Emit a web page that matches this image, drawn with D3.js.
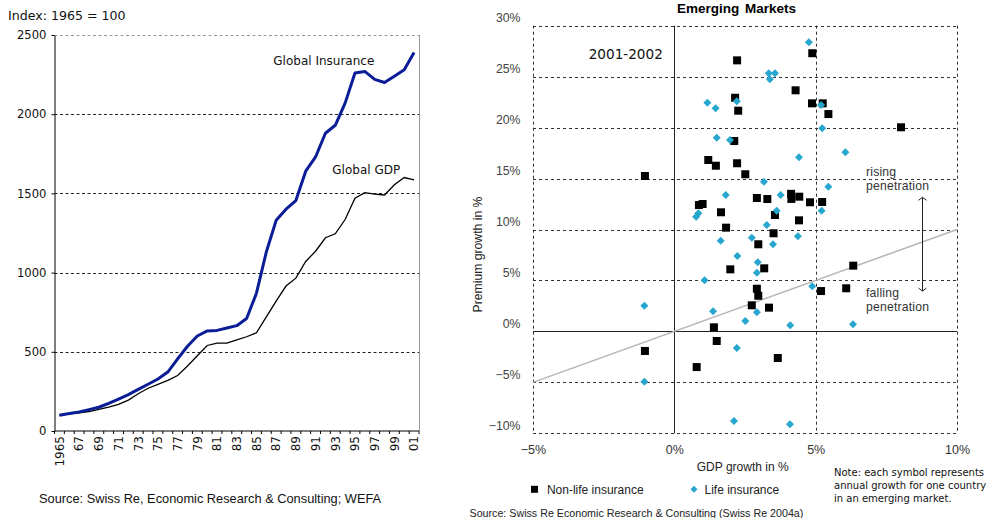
<!DOCTYPE html>
<html><head><meta charset="utf-8">
<script src="https://cdn.jsdelivr.net/npm/d3@7/dist/d3.min.js"></script>
<style>body{margin:0;background:#fff}svg{display:block}</style>
</head><body>
<svg id="c" width="994" height="518"></svg>
<script>
// ---------- Left chart data ----------
const years = ["1965","1966","1967","1968","1969","1970","1971","1972","1973","1974","1975","1976","1977","1978","1979","1980","1981","1982","1983","1984","1985","1986","1987","1988","1989","1990","1991","1992","1993","1994","1995","1996","1997","1998","1999","2000","2001"];
const insurance = [100,110,120,135,150,175,202,230,263,295,328,372,455,535,600,632,635,650,665,710,870,1130,1330,1400,1455,1640,1730,1880,1930,2070,2260,2270,2220,2200,2240,2280,2390];
const gdp = [100,108,115,123,137,150,168,195,235,270,295,320,350,410,475,540,555,555,575,595,620,720,820,915,965,1070,1135,1220,1245,1335,1470,1505,1495,1490,1555,1600,1585];
const labelYears = ["1965","1967","1969","1971","1973","1975","1977","1979","1981","1983","1985","1987","1989","1991","1993","1995","1997","1999","2001"];
const xTickLabels = ["1965","67","69","71","73","75","77","79","81","83","85","87","89","91","93","95","97","99","01"];
const yTicksL = [0,500,1000,1500,2000,2500];

// ---------- Right chart data ----------
const nonLifeGdp = [-1.04,2.22,4.88,4.29,2.15,2.26,4.87,5.25,5.45,8.02,2.12,1.2,1.47,2.22,2.51,0.87,1.0,1.65,1.83,2.92,3.29,4.13,4.14,4.42,4.8,5.23,3.56,4.41,3.51,2.97,1.98,3.18,2.92,2.97,2.74,3.35,1.4,1.5,-1.04,0.79,3.66,6.33,5.19,6.08];
const nonLifePrem = [15.25,26.6,27.3,23.66,22.93,21.66,22.38,22.38,21.33,20.03,18.68,16.82,16.26,16.5,15.42,12.4,12.5,11.69,10.18,13.09,12.99,13.5,13.0,13.22,12.67,12.7,11.42,10.9,9.63,8.55,6.09,6.19,4.19,3.5,2.56,2.33,0.4,-0.94,-1.92,-3.5,-2.61,6.45,3.96,4.23];
const lifeGdp = [4.76,3.34,3.56,3.38,1.17,1.46,2.21,5.19,5.23,1.5,1.97,4.41,6.05,3.17,5.45,1.82,3.76,0.77,0.85,3.62,5.21,3.27,2.74,1.64,4.37,3.49,2.23,2.95,2.92,1.07,4.88,-1.06,1.37,2.92,2.51,4.1,6.32,2.21,-1.06,2.11,4.09];
const lifePrem = [28.37,25.33,25.33,24.74,22.44,21.89,22.58,22.22,19.93,19.01,18.78,17.09,17.58,14.69,14.2,13.39,13.39,11.26,11.59,11.85,11.85,10.44,9.2,8.9,9.33,8.55,7.4,6.78,5.76,5.01,4.43,2.52,1.97,1.87,1.02,0.6,0.7,-1.63,-4.94,-8.79,-9.12];
const xTicksR = [-5,0,5,10];
const yTicksR = [30,25,20,15,10,5,0,-5,-10];
const xGridR = [-5,5,10];
const yGridR = [30,25,20,15,10,5,-5,-10];

const svg = d3.select("#c");
const DV = "'DejaVu Sans', Verdana, sans-serif";
const AR = "'Liberation Sans', Arial, Helvetica, sans-serif";

// ================= LEFT CHART =================
const xL = d3.scaleBand().domain(years).range([54.5, 419]);
const yL = d3.scaleLinear().domain([0, 2500]).range([431, 35]);
const bw = xL.bandwidth();
const L = svg.append("g");

L.append("text").attr("x", 8).attr("y", 19.5).attr("font-family", DV).attr("font-size", 12.6)
  .attr("fill", "#111").text("Index: 1965 = 100");

// gridlines
L.selectAll("line.grid").data(yTicksL.filter(d => d > 0)).join("line")
  .attr("x1", 54.5).attr("x2", 419)
  .attr("y1", d => Math.round(yL(d)) + 0.5).attr("y2", d => Math.round(yL(d)) + 0.5)
  .attr("stroke", d => d === 2500 ? "#999" : "#222").attr("stroke-width", 1)
  .attr("stroke-dasharray", "3,2.5");
// right border
L.append("line").attr("x1", 419.5).attr("x2", 419.5).attr("y1", yL(2500)).attr("y2", yL(0))
  .attr("stroke", "#999");

// y axis
const yAxL = L.append("g").attr("transform", "translate(54.5,0)")
  .call(d3.axisLeft(yL).tickValues(yTicksL).tickSize(3).tickSizeOuter(0).tickPadding(5).tickFormat(d3.format("d")));
yAxL.select(".domain").attr("stroke", "#000");
yAxL.selectAll("line").attr("stroke", "#000");
yAxL.selectAll("text").attr("font-family", DV).attr("font-size", 11.6).attr("fill", "#111");

// x axis
L.append("line").attr("x1", 54.5).attr("x2", 419).attr("y1", 431).attr("y2", 431).attr("stroke", "#000");
const tickPos = years.map(d => xL(d)).concat([xL.range()[1]]);
L.selectAll("line.xt").data(tickPos).join("line")
  .attr("x1", d => d).attr("x2", d => d).attr("y1", 431).attr("y2", 434).attr("stroke", "#000");
L.selectAll("text.xl").data(labelYears).join("text")
  .attr("transform", d => `translate(${xL(d) + bw / 2},436) rotate(-90)`)
  .attr("text-anchor", "end").attr("dy", "0.36em")
  .attr("font-family", DV).attr("font-size", 12).attr("fill", "#111")
  .text((d, i) => xTickLabels[i]);

const lineGen = d3.line().x(d => xL(d[0]) + bw / 2).y(d => yL(d[1]));
L.append("path").datum(years.map((y, i) => [y, gdp[i]]))
  .attr("d", lineGen).attr("fill", "none").attr("stroke", "#000").attr("stroke-width", 1.3);
L.append("path").datum(years.map((y, i) => [y, insurance[i]]))
  .attr("d", lineGen).attr("fill", "none").attr("stroke", "#0b1d96").attr("stroke-width", 3)
  .attr("stroke-linejoin", "round");

L.append("text").attr("x", 273.3).attr("y", 64.5).attr("font-family", DV).attr("font-size", 12)
  .attr("fill", "#111").text("Global Insurance");
L.append("text").attr("x", 332.3).attr("y", 173.5).attr("font-family", DV).attr("font-size", 12)
  .attr("fill", "#111").text("Global GDP");

L.append("text").attr("x", 39).attr("y", 503).attr("font-family", AR).attr("font-size", 12.8)
  .attr("fill", "#111").text("Source: Swiss Re, Economic Research & Consulting; WEFA");

// ================= RIGHT CHART =================
const xR = d3.scaleLinear().domain([-5, 10]).range([533, 957]);
const yR = d3.scaleLinear().domain([-10, 30]).range([433.3, 25.7]);
const R = svg.append("g");
const fmt = d => (d < 0 ? "\u2212" : "") + Math.abs(d) + "%";

R.append("text").attr("x", 736.4).attr("y", 12.5).attr("text-anchor", "middle")
  .attr("font-family", AR).attr("font-weight", "bold").attr("font-size", 13.5)
  .attr("word-spacing", 2).attr("fill", "#000").text("Emerging Markets");

// dashed grid
R.selectAll("line.hg").data(yGridR).join("line")
  .attr("x1", xR(-5)).attr("x2", xR(10))
  .attr("y1", d => Math.round(yR(d)) + 0.5).attr("y2", d => Math.round(yR(d)) + 0.5)
  .attr("stroke", "#333").attr("stroke-dasharray", "3,3");
R.selectAll("line.vg").data(xGridR).join("line")
  .attr("x1", d => Math.round(xR(d)) + 0.5).attr("x2", d => Math.round(xR(d)) + 0.5)
  .attr("y1", yR(30)).attr("y2", yR(-10))
  .attr("stroke", "#333").attr("stroke-dasharray", "3,3");
// zero axes
R.append("line").attr("x1", xR(-5)).attr("x2", xR(10))
  .attr("y1", Math.round(yR(0)) + 0.5).attr("y2", Math.round(yR(0)) + 0.5).attr("stroke", "#222");
R.append("line").attr("x1", Math.round(xR(0)) + 0.5).attr("x2", Math.round(xR(0)) + 0.5)
  .attr("y1", yR(30)).attr("y2", yR(-10)).attr("stroke", "#222");

// constant-penetration line (premium growth = GDP growth)
R.append("line").attr("x1", xR(-5)).attr("y1", yR(-5)).attr("x2", xR(10)).attr("y2", yR(10))
  .attr("stroke", "#b5b5b5").attr("stroke-width", 1.5);

// axes
const yAxR = R.append("g").attr("transform", `translate(${xR(-5)},0)`)
  .call(d3.axisLeft(yR).tickValues(yTicksR).tickSize(0).tickPadding(12.5).tickFormat(fmt));
yAxR.select(".domain").remove();
yAxR.selectAll("text").attr("font-family", AR).attr("font-size", 12.3).attr("fill", "#444")
  .attr("dy", "-0.32em");
const xAxR = R.append("g").attr("transform", `translate(0,${yR(-10)})`)
  .call(d3.axisBottom(xR).tickValues(xTicksR).tickSize(0).tickPadding(11.5).tickFormat(fmt));
xAxR.select(".domain").remove();
xAxR.selectAll("text").attr("font-family", AR).attr("font-size", 12.5).attr("fill", "#333");

R.append("text").attr("x", 742.7).attr("y", 471).attr("text-anchor", "middle")
  .attr("font-family", AR).attr("font-size", 12).attr("fill", "#222").text("GDP growth in %");
R.append("text").attr("transform", "translate(481.5,254.5) rotate(-90)").attr("text-anchor", "middle")
  .attr("font-family", AR).attr("font-size", 12.2).attr("fill", "#222").text("Premium growth in %");

R.append("text").attr("x", 588.7).attr("y", 58.5).attr("font-family", DV).attr("font-size", 13.6)
  .attr("fill", "#111").text("2001-2002");

// points
const sq = d3.symbol().type(d3.symbolSquare).size(64);
const dia = d3.symbol().type(d3.symbolSquare).size(32);
R.selectAll("path.nl").data(nonLifeGdp.map((g, i) => [g, nonLifePrem[i]])).join("path")
  .attr("d", sq).attr("transform", d => `translate(${xR(d[0])},${yR(d[1])})`).attr("fill", "#000");
R.selectAll("path.lf").data(lifeGdp.map((g, i) => [g, lifePrem[i]])).join("path")
  .attr("d", dia).attr("transform", d => `translate(${xR(d[0])},${yR(d[1])}) rotate(45)`).attr("fill", "#27a6cf");

// annotations
const annX = 6.78;
const ann = [["rising", 15.25], ["penetration", 13.83], ["falling", 3.38], ["penetration", 2.0]];
R.selectAll("text.ann").data(ann).join("text")
  .attr("x", xR(annX)).attr("y", d => yR(d[1]))
  .attr("font-family", AR).attr("font-size", 12.2).attr("fill", "#333").attr("letter-spacing", 0.2)
  .text(d => d[0]);
const arrX = Math.round(xR(8.75)) + 0.5, aTop = yR(13.16), aBot = yR(3.96);
R.append("line").attr("x1", arrX).attr("x2", arrX).attr("y1", aTop).attr("y2", aBot).attr("stroke", "#222");
R.append("path").attr("d", `M${arrX - 4},${aTop + 3}L${arrX},${aTop}L${arrX + 4},${aTop + 3}`)
  .attr("fill", "none").attr("stroke", "#222");
R.append("path").attr("d", `M${arrX - 4},${aBot - 3}L${arrX},${aBot}L${arrX + 4},${aBot - 3}`)
  .attr("fill", "none").attr("stroke", "#222");

// legend
R.append("path").attr("d", d3.symbol().type(d3.symbolSquare).size(49))
  .attr("transform", "translate(534.5,489.3)").attr("fill", "#000");
R.append("text").attr("x", 546.9).attr("y", 493.5).attr("font-family", AR).attr("font-size", 12)
  .attr("fill", "#222").text("Non-life insurance");
R.append("path").attr("d", d3.symbol().type(d3.symbolSquare).size(24))
  .attr("transform", "translate(694,489.3) rotate(45)").attr("fill", "#27a6cf");
R.append("text").attr("x", 704.5).attr("y", 493.5).attr("font-family", AR).attr("font-size", 12)
  .attr("fill", "#222").text("Life insurance");

// note
const note = ["Note: each symbol represents", "annual growth for one country", "in an emerging market."];
R.selectAll("text.note").data(note).join("text")
  .attr("x", 834).attr("y", (d, i) => 476 + i * 13)
  .attr("font-family", DV).attr("font-size", 10).attr("fill", "#111").text(d => d);

R.append("text").attr("x", 469.5).attr("y", 517).attr("font-family", AR).attr("font-size", 10.7)
  .attr("fill", "#222").text("Source: Swiss Re Economic Research & Consulting (Swiss Re 2004a)");
</script>
</body></html>
